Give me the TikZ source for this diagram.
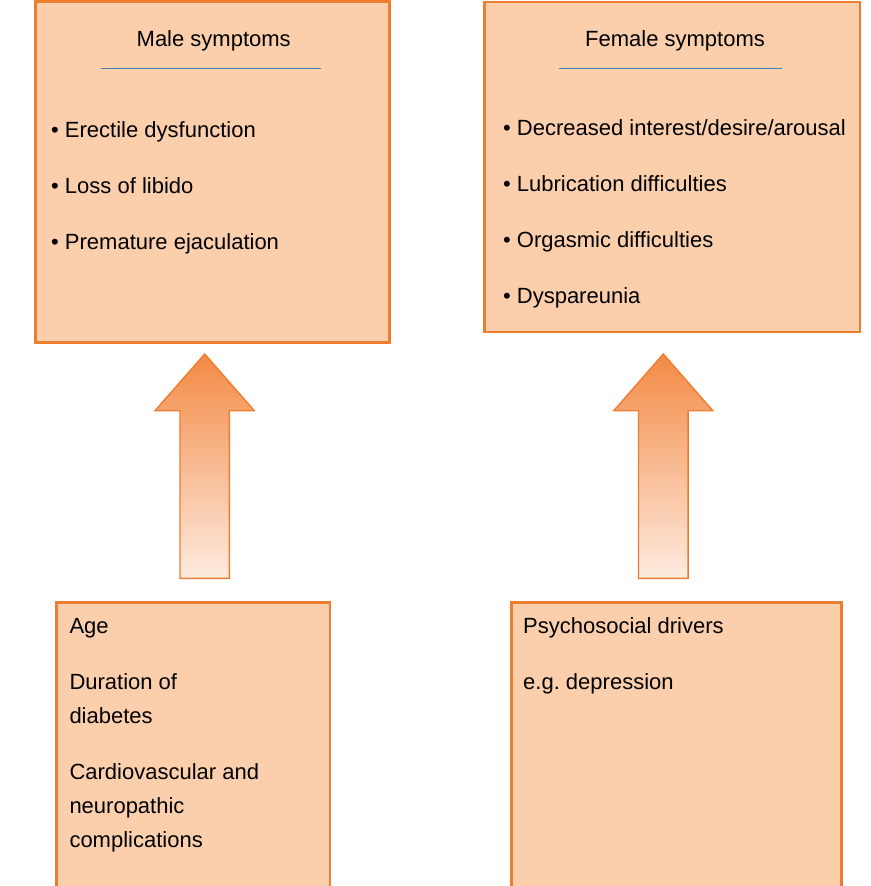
\documentclass[tikz,border=0pt]{standalone}
\usepackage{fontspec}
\setmainfont{Liberation Sans}
\frenchspacing
\definecolor{boxfill}{HTML}{FBCEAC}
\definecolor{boxline}{HTML}{ED7D31}
\definecolor{ruleblue}{HTML}{4A7EBB}
\definecolor{arrtop}{HTML}{F38A45}
\definecolor{arrbot}{HTML}{FDEBDF}
\begin{document}
\begin{tikzpicture}[x=1pt,y=-1pt,
  font=\fontsize{22}{26}\selectfont,
  box/.style={draw=boxline, fill=boxfill, line width=2.6pt, inner sep=0pt, anchor=north west},
  txt/.style={anchor=base west, inner sep=0pt, text=black},
  ttl/.style={anchor=base, inner sep=0pt, text=black},
  rulestyle/.style={draw=ruleblue, line width=0.9pt},
  uparrow/.style={draw=boxline, line width=1.4pt, top color=arrtop, bottom color=arrbot, line join=miter}]
\useasboundingbox (0,0) rectangle (870,886);
\clip (0,0) rectangle (870,886);
% boxes
\node[box, minimum width=354pt, minimum height=340.5pt] (male) at (34,0.5) {};
\node[box, minimum width=375.5pt, minimum height=330.2pt] (female) at (483,0.5) {};
\node[box, minimum width=273.4pt, minimum height=320pt] (risk) at (55.3,601.3) {};
\node[box, minimum width=330.3pt, minimum height=320pt] (psych) at (510,601.3) {};
% titles and rules
\node[ttl] (maleT) at (213.7,46.2) {Male symptoms};
\node[ttl] (femaleT) at (675,46.2) {Female symptoms};
\coordinate (mr1) at (100.7,68.3);
\coordinate (mr2) at (321,68.3);
\coordinate (fr1) at (559.3,68.3);
\coordinate (fr2) at (782.3,68.3);
\draw[rulestyle] (mr1) -- (mr2);
\draw[rulestyle] (fr1) -- (fr2);
% male bullets
\node[txt] (m1) at (51,137.8) {• Erectile dysfunction};
\node[txt] (m2) at (51,193.8) {• Loss of libido};
\node[txt] (m3) at (51,249.8) {• Premature ejaculation};
% female bullets
\node[txt] (f1) at (502.9,135.5) {• Decreased interest/desire/arousal};
\node[txt] (f2) at (502.9,191.4) {• Lubrication difficulties};
\node[txt] (f3) at (502.9,247.4) {• Orgasmic difficulties};
\node[txt] (f4) at (502.9,303.4) {• Dyspareunia};
% bottom-left texts
\node[txt] (r1) at (69.3,633.2) {Age};
\node[txt] (r2) at (69.3,689.8) {Duration of};
\node[txt] (r3) at (69.3,723.8) {diabetes};
\node[txt] (r4) at (69.3,779.8) {Cardiovascular and};
\node[txt] (r5) at (69.3,813.8) {neuropathic};
\node[txt] (r6) at (69.3,847.8) {complications};
% bottom-right texts
\node[txt] (p1) at (523,633.2) {Psychosocial drivers};
\node[txt] (p2) at (523,689.5) {e.g.\ depression};
% block arrows
\draw[uparrow] (180,578.3) -- (180,410.7) -- (155,410.7) -- (204.7,354) -- (254.3,410.7) -- (229.3,410.7) -- (229.3,578.3) -- cycle;
\draw[uparrow] (638.5,578.3) -- (638.5,410.7) -- (613.8,410.7) -- (663.3,354) -- (712.8,410.7) -- (688.1,410.7) -- (688.1,578.3) -- cycle;
\end{tikzpicture}
\end{document}
